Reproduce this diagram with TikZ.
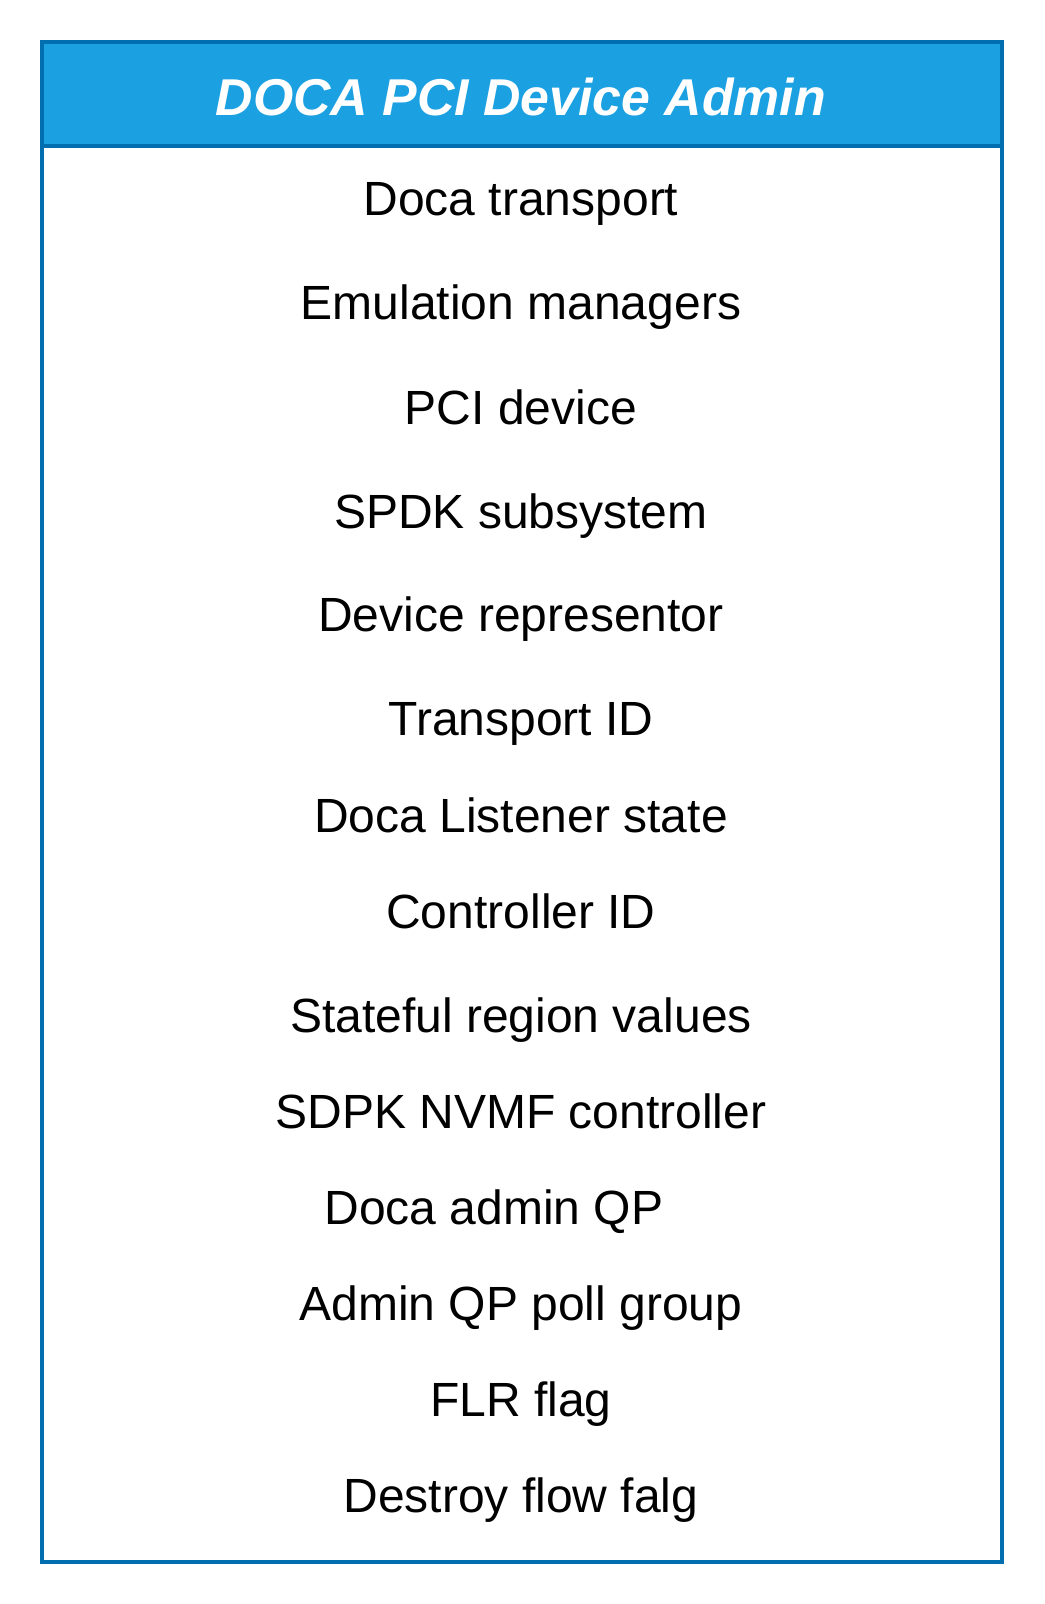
\documentclass[tikz,border=0pt]{standalone}
\usepackage{fontspec}
\setmainfont{Liberation Sans}
\usetikzlibrary{positioning}
\definecolor{headblue}{HTML}{1BA1E2}
\definecolor{lineblue}{HTML}{006EAF}
\begin{document}
\begin{tikzpicture}[x=0.5pt, y=-0.5pt,
    field/.style={anchor=base, inner sep=0pt, font=\fontsize{24}{28}\selectfont},
    title/.style={anchor=base, inner sep=0pt, text=white,
      font=\fontsize{25.9}{30}\selectfont\bfseries\itshape}]
  \useasboundingbox (0,0) rectangle (1044,1604);
  \fill [headblue] (42,42) rectangle (1002,146);
  \draw [lineblue, line width=2pt] (42,146) -- (1002,146);
  \draw [lineblue, line width=2pt] (42,42) rectangle (1002,1562);
  \node (title) at (521,116) [title] {DOCA PCI Device Admin};
  \foreach \name/\y/\txt in {trans/216/Doca transport, emu/320/Emulation managers,
      pci/424/PCI device, spdk/528/SPDK subsystem, rep/631/Device representor,
      tid/735/Transport ID, listen/832/Doca Listener state, ctrl/928/Controller ID,
      region/1032/Stateful region values, nvmf/1128/SDPK NVMF controller,
      poll/1320/Admin QP poll group, flr/1416/FLR flag, destroy/1512/Destroy flow falg}
    \node (\name) at (521,\y) [field] {\txt};
  \node (adminqp) at (494,1224) [field] {Doca admin QP};
\end{tikzpicture}
\end{document}
